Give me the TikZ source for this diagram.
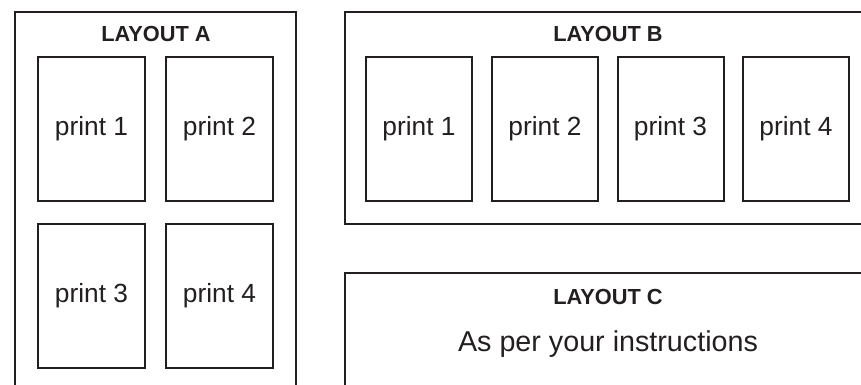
\documentclass[tikz,border=0pt]{standalone}
\usepackage{fontspec}
\setmainfont{Liberation Sans}
\usetikzlibrary{positioning}
\definecolor{ink}{HTML}{231F20}

\begin{document}
\begin{tikzpicture}[x=1pt,y=1pt,line width=2pt,color=ink,
  frame/.style={draw,inner sep=0pt,outer sep=0pt},
  sheet/.style={draw,inner sep=0pt,outer sep=0pt,minimum width=106pt,minimum height=144pt,
    font=\fontsize{26.3}{30}\selectfont},
  title/.style={font=\fontsize{21.8}{25}\selectfont\bfseries}]

\useasboundingbox (0,0) rectangle (861,384);
\clip (0,0) rectangle (861,384);

\def\top{255}

% layout A
\node[frame,minimum width=281pt,minimum height=384pt] (frameA) at (155.5,180) {};
\node[title] (titleA) at (156,350) {LAYOUT A};
\node[sheet,minimum width=107pt] (a1) at (91.5,\top) {print 1};
\node[sheet,minimum width=107pt] (a2) at (219.5,\top) {print 2};
\node[sheet,minimum width=107pt] (a3) at (91.5,88.5) {print 3};
\node[sheet,minimum width=107pt] (a4) at (219.5,88.5) {print 4};

% layout B
\node[frame,minimum width=535pt,minimum height=212pt] (frameB) at (612.5,266) {};
\node[title] (titleB) at (608,350) {LAYOUT B};
\node[sheet] (b1) at (419,\top) {print 1};
\node[sheet] (b2) at (545,\top) {print 2};
\node[sheet] (b3) at (670.5,\top) {print 3};
\node[sheet] (b4) at (796,\top) {print 4};

% layout C
\node[frame,minimum width=535pt,minimum height=123pt] (frameC) at (612.5,49.5) {};
\node[title] (titleC) at (608,87) {LAYOUT C};
\node[font=\fontsize{28.7}{34}\selectfont] (note) at (608,40) {As per your instructions};

\end{tikzpicture}
\end{document}
